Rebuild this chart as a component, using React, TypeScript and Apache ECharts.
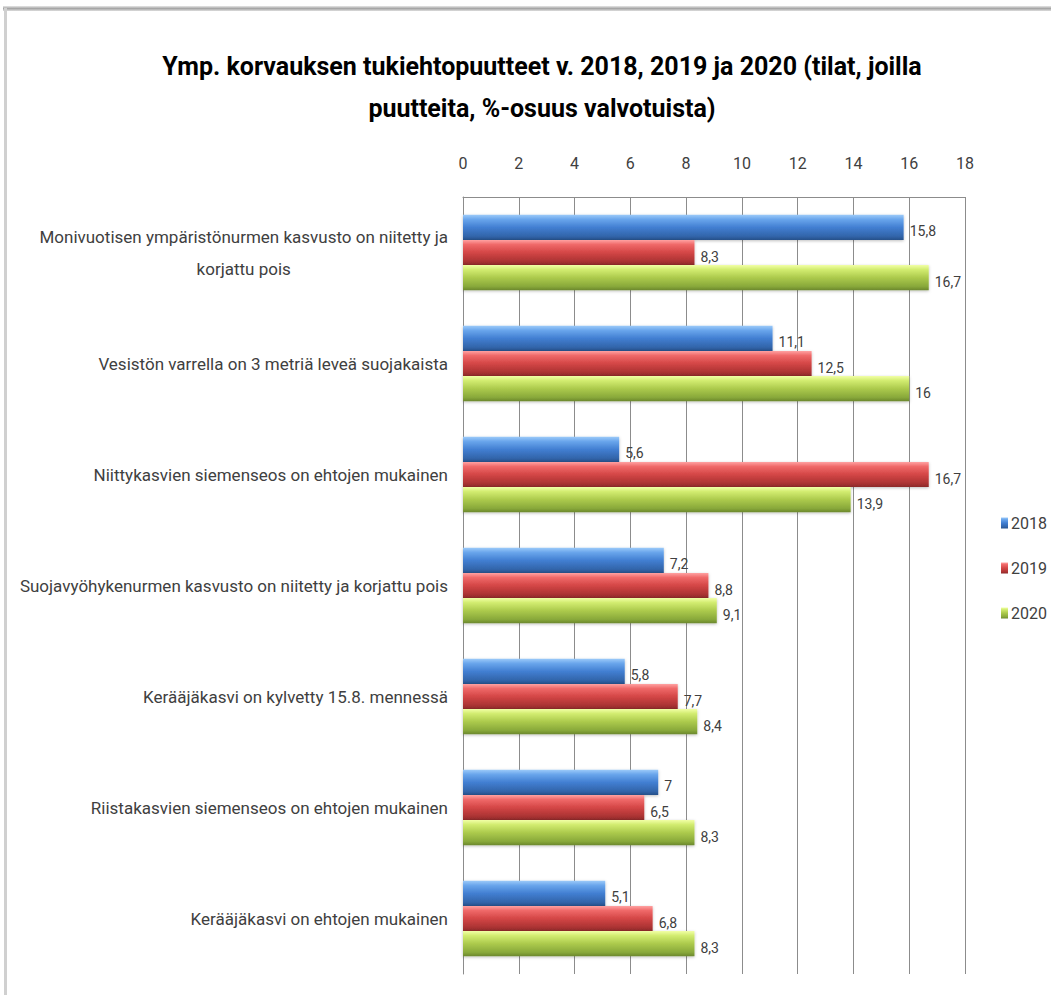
import React, { useEffect, useRef } from "react";
import * as echarts from "echarts";

const categories = [
  "Monivuotisen ympäristönurmen kasvusto on niitetty ja\nkorjattu pois",
  "Vesistön varrella on 3 metriä leveä suojakaista",
  "Niittykasvien siemenseos on ehtojen mukainen",
  "Suojavyöhykenurmen kasvusto on niitetty ja korjattu pois",
  "Kerääjäkasvi on kylvetty 15.8. mennessä",
  "Riistakasvien siemenseos on ehtojen mukainen",
  "Kerääjäkasvi on ehtojen mukainen",
];
const seriesNames = ["2018", "2019", "2020"];
const values2018 = [15.8, 11.1, 5.6, 7.2, 5.8, 7, 5.1];
const values2019 = [8.3, 12.5, 16.7, 8.8, 7.7, 6.5, 6.8];
const values2020 = [16.7, 16, 13.9, 9.1, 8.4, 8.3, 8.3];
const titleText =
  "Ymp. korvauksen tukiehtopuutteet v. 2018, 2019 ja 2020 (tilat, joilla\npuutteita, %-osuus valvotuista)";

const FONT = "Roboto, 'Open Sans', sans-serif";
const TEXT = "#404040";

const grad = (stops: string[]) =>
  new echarts.graphic.LinearGradient(0, 0, 0, 1, [
    { offset: 0, color: stops[0] },
    { offset: 0.18, color: stops[1] },
    { offset: 0.5, color: stops[2] },
    { offset: 0.85, color: stops[3] },
    { offset: 1, color: stops[4] },
  ]);

const palettes = [
  ["#9ccaf9", "#6aa6ec", "#427fd2", "#3265ab", "#27508a"],
  ["#ffa3a3", "#f06a6a", "#d44646", "#ab3333", "#8a2828"],
  ["#f1ffa6", "#d2ec70", "#acca4c", "#88a83a", "#6b872d"],
];

export default function App() {
  const ref = useRef<HTMLDivElement>(null);
  useEffect(() => {
    if (!ref.current) return;
    const chart = echarts.init(ref.current, null, { renderer: "svg" });
    const dataSets = [values2018, values2019, values2020];
    chart.setOption({
      animation: false,
      backgroundColor: "#ffffff",
      title: {
        text: titleText,
        left: 537,
        textAlign: "center",
        top: 40,
        textStyle: {
          fontFamily: FONT,
          fontWeight: "bold",
          fontSize: 25,
          lineHeight: 42,
          color: "#000000",
        },
      },
      legend: {
        orient: "vertical",
        left: 996,
        top: 510,
        itemWidth: 7,
        itemHeight: 11,
        itemGap: 29,
        icon: "rect",
        textStyle: { fontFamily: FONT, fontSize: 16, color: TEXT, padding: [0, 0, 0, -2] },
        data: seriesNames,
      },
      graphic: [
        {
          type: "rect",
          shape: { x: 3, y: 6, width: 1048, height: 5 },
          style: {
            fill: new echarts.graphic.LinearGradient(0, 0, 0, 1, [
              { offset: 0, color: "#e6e6e6" },
              { offset: 0.5, color: "#a6a6a6" },
              { offset: 1, color: "#dcdcdc" },
            ]),
          },
        },
        {
          type: "rect",
          shape: { x: 4, y: 8, width: 3, height: 990 },
          style: { fill: "#d0d0d0" },
        },
      ],
      grid: { left: 463, right: 86, top: 197, bottom: 21, outerBoundsMode: "none", containLabel: false },
      xAxis: {
        type: "value",
        position: "top",
        min: 0,
        max: 18,
        interval: 2,
        axisLine: { show: true, lineStyle: { color: "#8c8c8c", width: 1 } },
        axisTick: { show: false },
        axisLabel: { fontFamily: FONT, fontSize: 16, color: TEXT, margin: 26 },
        splitLine: { show: true, lineStyle: { color: "#8c8c8c", width: 1 } },
      },
      yAxis: {
        type: "category",
        inverse: true,
        data: categories,
        axisLine: { show: true, lineStyle: { color: "#8c8c8c", width: 1 } },
        axisTick: { show: false },
        axisLabel: {
          align: "right",
          margin: 15,
          fontFamily: FONT,
          fontSize: 17,
          color: TEXT,
          formatter: (v: string) =>
            v
              .split("\n")
              .map((l) => "{c|" + l + "}")
              .join("\n"),
          rich: {
            c: {
              align: "center",
              fontFamily: FONT,
              fontSize: 17,
              color: TEXT,
              lineHeight: 32,
            },
          },
        },
      },
      series: seriesNames.map((name, i) => ({
        name,
        type: "bar",
        data: dataSets[i],
        barGap: "0%",
        barCategoryGap: "32%",
        itemStyle: {
          color: grad(palettes[i]),
          shadowColor: "rgba(0,0,0,0.25)",
          shadowBlur: 3,
          shadowOffsetY: 1,
        },
        label: {
          show: true,
          position: "right",
          distance: 6,
          offset: [0, 4],
          fontFamily: FONT,
          fontSize: 14,
          color: TEXT,
          formatter: (p: any) => String(p.value).replace(".", ","),
        },
      })),
    });
    return () => chart.dispose();
  }, []);
  return (
    <div
      ref={ref}
      style={{ position: "fixed", left: 0, top: 0, width: 1051, height: 995 }}
    />
  );
}
